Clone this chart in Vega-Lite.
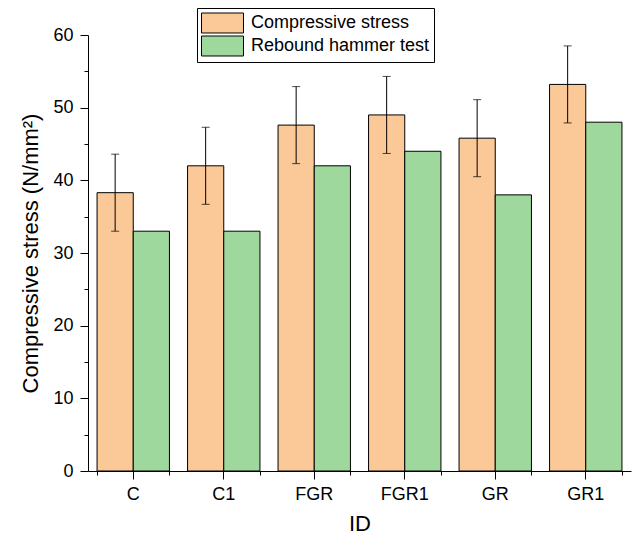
{
  "$schema": "https://vega.github.io/schema/vega-lite/v6.json",
  "width": 543,
  "height": 436,
  "autosize": "none",
  "padding": {"left": 88, "top": 35, "right": 1, "bottom": 65},
  "config": {
    "view": {"stroke": null},
    "font": "Liberation Sans",
    "axis": {
      "domainColor": "black", "tickColor": "black", "labelColor": "black", "titleColor": "black",
      "labelFontSize": 18, "titleFontSize": 22, "titleFontWeight": "normal", "tickSize": 8,
      "grid": false, "labelFont": "Liberation Sans", "titleFont": "Liberation Sans"
    }
  },
  "data": {
    "values": [
      {"ID": "C", "test": "Compressive stress", "value": 38.3, "lo": 33.0, "hi": 43.6},
      {"ID": "C", "test": "Rebound hammer test", "value": 33.0},
      {"ID": "C1", "test": "Compressive stress", "value": 42.0, "lo": 36.7, "hi": 47.3},
      {"ID": "C1", "test": "Rebound hammer test", "value": 33.0},
      {"ID": "FGR", "test": "Compressive stress", "value": 47.6, "lo": 42.3, "hi": 52.9},
      {"ID": "FGR", "test": "Rebound hammer test", "value": 42.0},
      {"ID": "FGR1", "test": "Compressive stress", "value": 49.0, "lo": 43.7, "hi": 54.3},
      {"ID": "FGR1", "test": "Rebound hammer test", "value": 44.0},
      {"ID": "GR", "test": "Compressive stress", "value": 45.8, "lo": 40.5, "hi": 51.1},
      {"ID": "GR", "test": "Rebound hammer test", "value": 38.0},
      {"ID": "GR1", "test": "Compressive stress", "value": 53.2, "lo": 47.9, "hi": 58.5},
      {"ID": "GR1", "test": "Rebound hammer test", "value": 48.0}
    ]
  },
  "layer": [
    {
      "mark": {"type": "bar", "stroke": "black", "strokeWidth": 1},
      "encoding": {
        "x": {"field": "ID", "type": "nominal", "sort": null,
              "scale": {"paddingInner": 0.2, "paddingOuter": 0.1},
              "axis": {"orient": "bottom", "labelAngle": 0, "labelPadding": 6, "titlePadding": 10, "title": "ID"}},
        "xOffset": {"field": "test", "type": "nominal", "sort": null},
        "y": {"field": "value", "type": "quantitative",
              "scale": {"domain": [0, 60], "nice": false},
              "axis": {"orient": "left", "values": [0, 10, 20, 30, 40, 50, 60], "labelPadding": 7, "titlePadding": 10, "title": "Compressive stress (N/mm²)"}},
        "color": {"field": "test", "type": "nominal", "sort": null,
                  "scale": {"range": ["#fbc897", "#9fd89c"]},
                  "legend": {"orient": "none", "legendX": 109, "legendY": -27, "title": null,
                             "strokeColor": "black", "fillColor": "white", "padding": 4,
                             "labelFontSize": 18, "labelColor": "black", "labelFont": "Liberation Sans", "labelLimit": 400,
                             "symbolType": "M-1,-0.952H3V0.952H-1Z", "symbolSize": 441,
                             "symbolStrokeColor": "black", "symbolStrokeWidth": 1,
                             "rowPadding": -1, "labelOffset": 28, "cornerRadius": 0}}
      }
    },
    {
      "transform": [{"filter": "datum.test == 'Compressive stress'"}],
      "mark": {"type": "rule", "color": "black", "strokeWidth": 1},
      "encoding": {
        "x": {"field": "ID", "type": "nominal", "sort": null,
              "axis": {"orient": "bottom", "tickBand": "extent", "labels": false, "title": null, "domain": false, "tickSize": 4}},
        "xOffset": {"field": "test", "type": "nominal", "sort": null},
        "y": {"field": "lo", "type": "quantitative",
              "axis": {"orient": "left", "values": [5, 15, 25, 35, 45, 55], "labels": false, "title": null, "domain": false, "tickSize": 4}},
        "y2": {"field": "hi"}
      }
    },
    {
      "transform": [{"filter": "datum.test == 'Compressive stress'"}],
      "mark": {"type": "tick", "color": "black", "thickness": 1, "size": 8, "orient": "horizontal"},
      "encoding": {
        "x": {"field": "ID", "type": "nominal", "sort": null, "axis": null},
        "xOffset": {"field": "test", "type": "nominal", "sort": null},
        "y": {"field": "lo", "type": "quantitative", "axis": null}
      }
    },
    {
      "transform": [{"filter": "datum.test == 'Compressive stress'"}],
      "mark": {"type": "tick", "color": "black", "thickness": 1, "size": 8, "orient": "horizontal"},
      "encoding": {
        "x": {"field": "ID", "type": "nominal", "sort": null, "axis": null},
        "xOffset": {"field": "test", "type": "nominal", "sort": null},
        "y": {"field": "hi", "type": "quantitative", "axis": null}
      }
    }
  ],
  "resolve": {"axis": {"x": "independent", "y": "independent"}}
}
